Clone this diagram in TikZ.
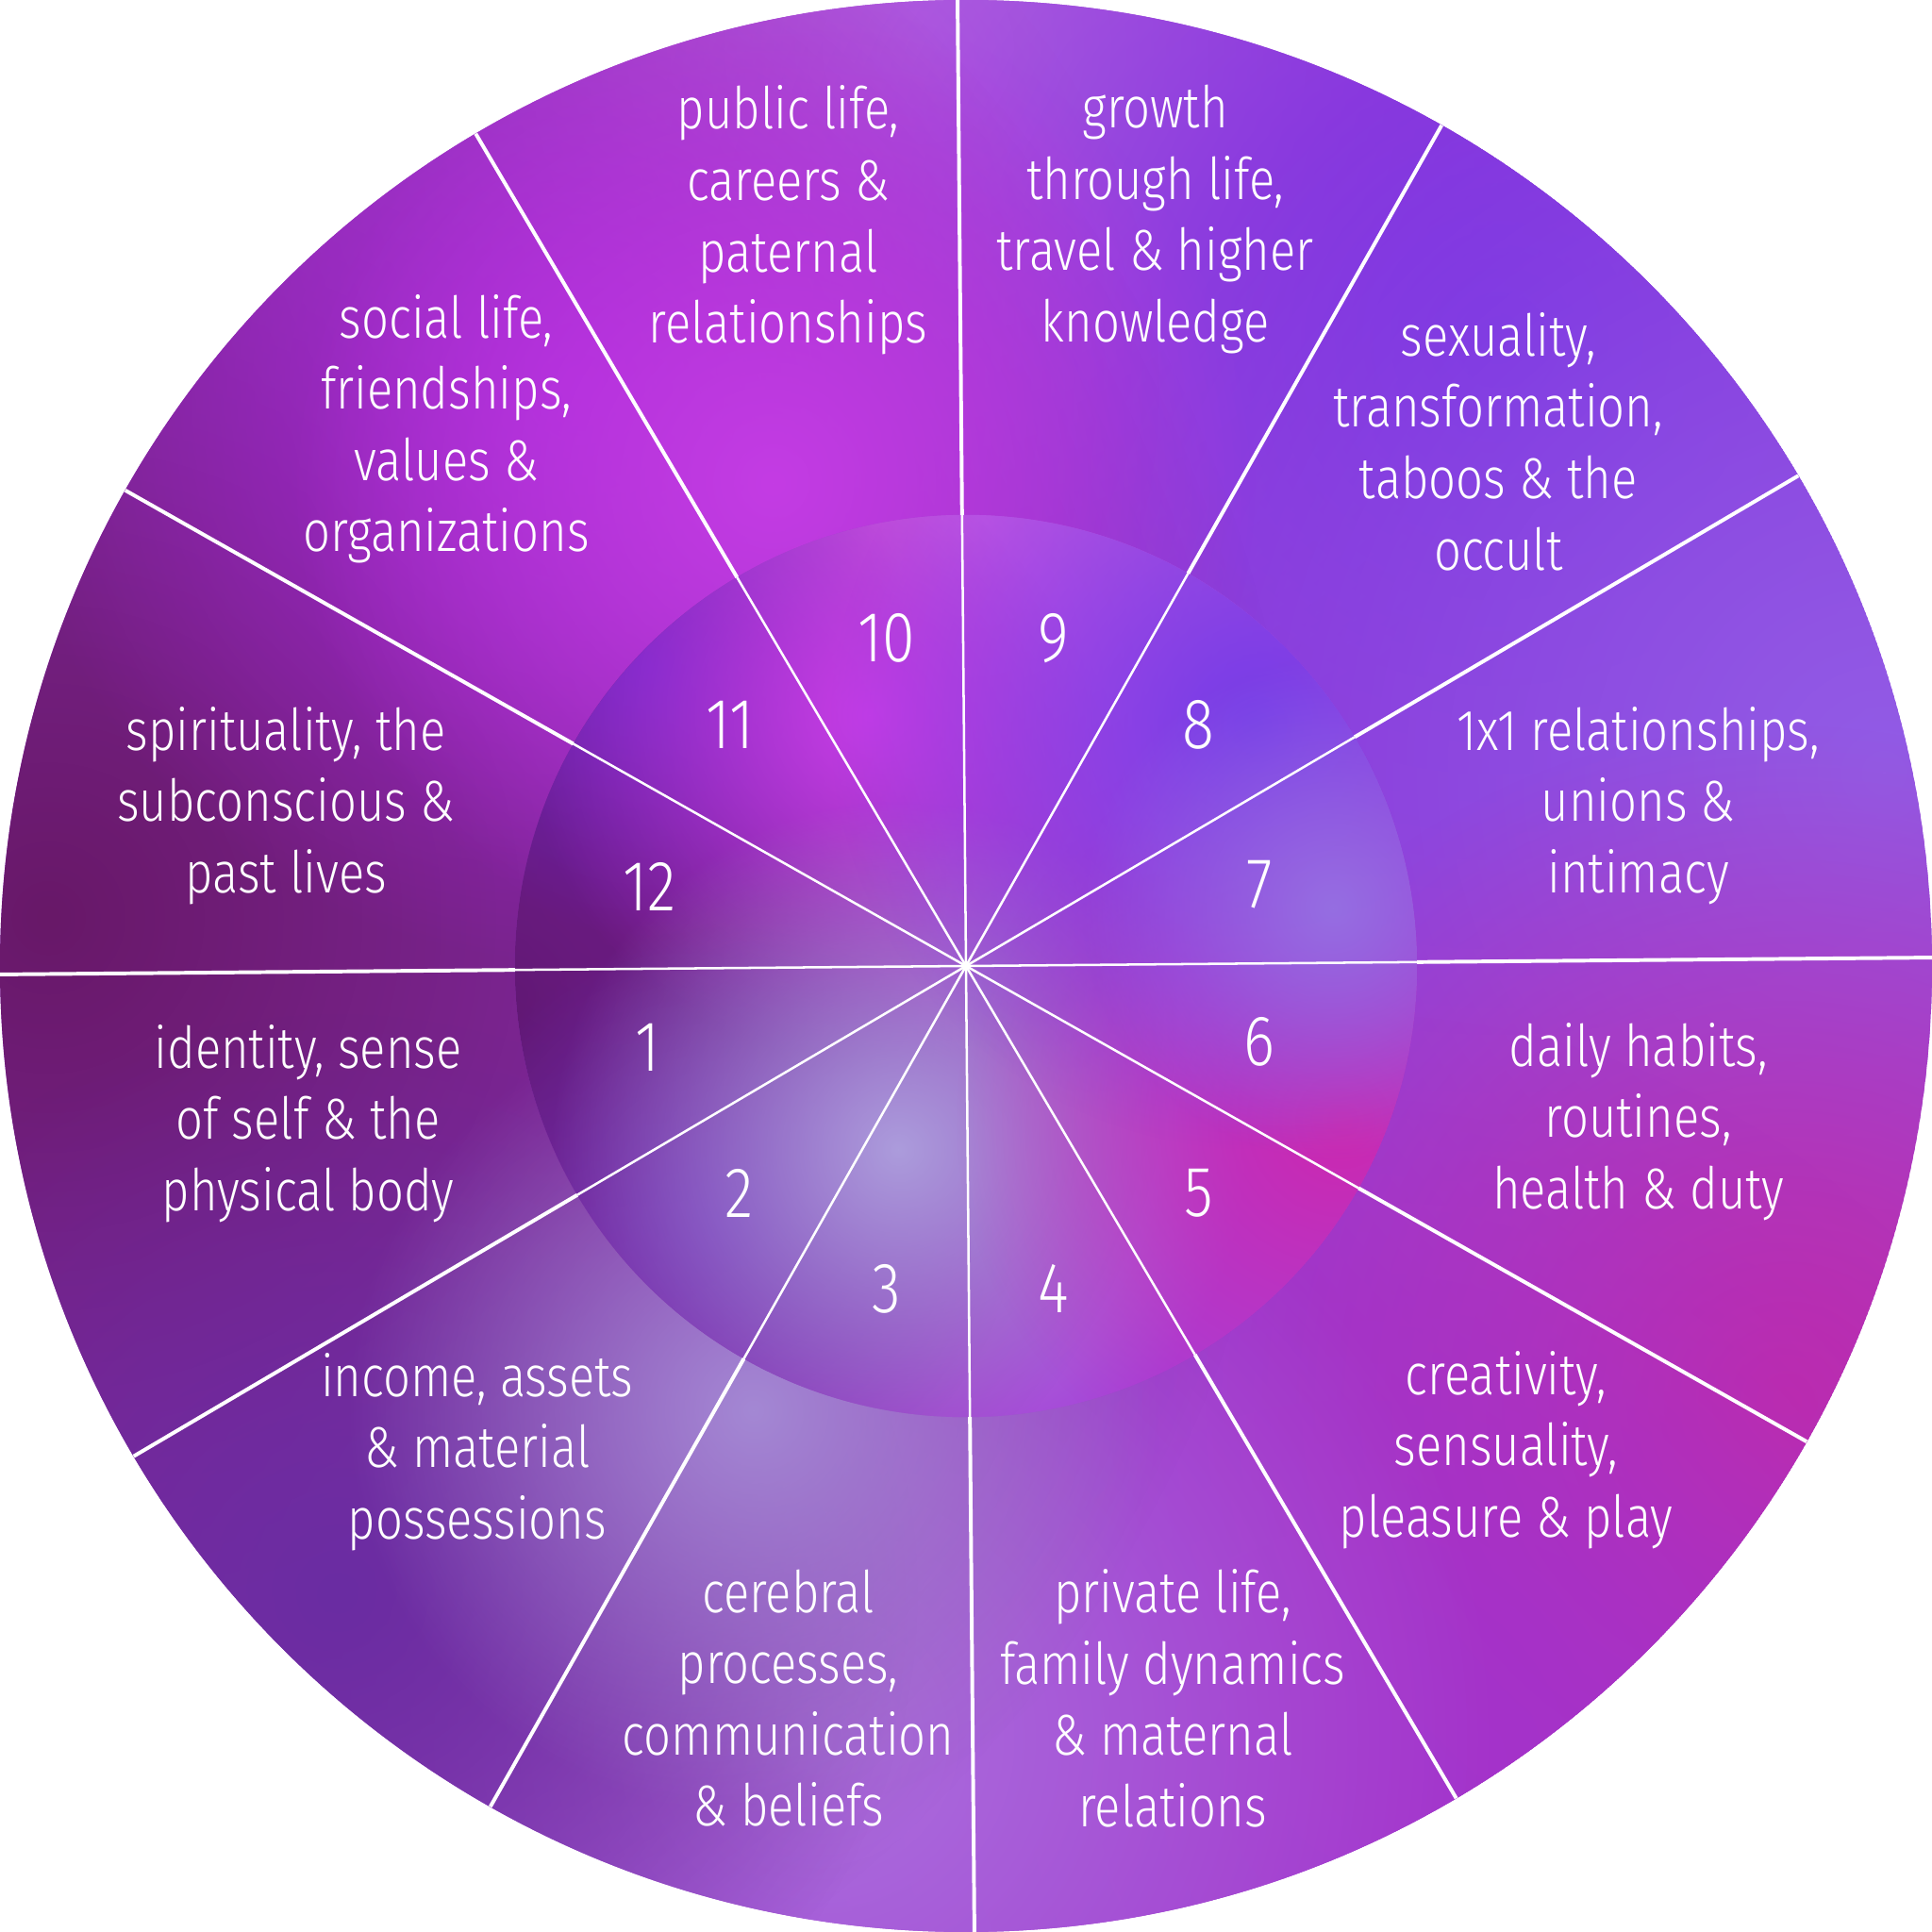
\documentclass[tikz,border=0pt]{standalone}
\usepackage{fontspec}
\setmainfont{Fira Sans Light}[FakeStretch=0.83]
\usepackage{tikz}
\usetikzlibrary{fadings}

\definecolor{ringbase}{HTML}{9838D0}
\definecolor{diskbase}{HTML}{A640D8}
\tikzfading[name=glow out, inner color=transparent!0, outer color=transparent!100]

\tikzset{
	spoke/.style={white, line width=1.1pt},
	innerspoke/.style={white, line width=0.7pt},
	house/.style={white, align=center, inner sep=0pt, font=\fontsize{17}{21}\selectfont},
	housenum/.style={white, inner sep=0pt, font=\fontsize{21}{21}\selectfont},
	blob/.style={path fading=glow out},
}

\begin{document}
\begin{tikzpicture}
	\useasboundingbox (-10, -10) rectangle (10, 10);
	\coordinate (c) at (0, 0);
	% outer ring
	\begin{scope}
		\clip (c) circle (10);
		\fill[ringbase] (c) circle (10);
		\fill[blob, color={rgb,255:red,192;green,112;blue,224}] (-0.5, 9.5) circle (8);
		\fill[blob, color={rgb,255:red,122;green,46;blue,226}] (5.5, 6.5) circle (9);
		\fill[blob, color={rgb,255:red,146;green,92;blue,230}] (9.5, 2) circle (9);
		\fill[blob, color={rgb,255:red,194;green,42;blue,168}] (8.5, -4.5) circle (7);
		\fill[blob, color={rgb,255:red,164;green,50;blue,204}] (4, -8.5) circle (8);
		\fill[blob, color={rgb,255:red,172;green,112;blue,222}] (-1.5, -8) circle (7);
		\fill[blob, color={rgb,255:red,104;green,24;blue,104}] (-9.5, 0.5) circle (13);
		\fill[blob, color={rgb,255:red,106;green,44;blue,162}] (-6.5, -6.5) circle (6);
		\fill[blob, color={rgb,255:red,164;green,136;blue,212}] (-2.2, -4.6) circle (4.2);
		\fill[blob, color={rgb,255:red,168;green,40;blue,216}] (-4, 6) circle (6);
		\fill[blob, color={rgb,255:red,196;green,60;blue,228}] (-2, 5) circle (5);
	\end{scope}
	% inner disk
	\begin{scope}
		\clip (c) circle (4.67);
		\fill[diskbase] (c) circle (4.67);
		\fill[blob, color={rgb,255:red,200;green,104;blue,226}] (0, 4.5) circle (5);
		\fill[blob, color={rgb,255:red,88;green,22;blue,104}] (-4.8, -0.3) circle (7);
		\fill[blob, color={rgb,255:red,106;green,26;blue,128}] (-3.6, 0.9) circle (3.4);
		\fill[blob, color={rgb,255:red,108;green,36;blue,194}] (-3.3, 3.1) circle (2.8);
		\fill[blob, color={rgb,255:red,198;green,60;blue,230}] (-1, 2.6) circle (3.6);
		\fill[blob, color={rgb,255:red,112;green,44;blue,180}] (-2.5, -2.6) circle (3);
		\fill[blob, color={rgb,255:red,172;green,156;blue,220}] (-0.7, -1.9) circle (3.6);
		\fill[blob, color={rgb,255:red,204;green,40;blue,176}] (3.9, -1.6) circle (4);
		\fill[blob, color={rgb,255:red,118;green,60;blue,232}] (3, 2.5) circle (4.4);
		\fill[blob, color={rgb,255:red,150;green,110;blue,226}] (3.8, 0.6) circle (2.6);
	\end{scope}
	% spokes
	\foreach \a in {0.5, 30.5, ..., 330.5} {
		\draw[spoke] (\a:4.67) -- (\a:10);
		\draw[innerspoke] (c) -- (\a:4.67);
	}
	% house numbers
	\node[housenum] (n1) at (-3.30, -0.84) {1};
	\node[housenum] (n2) at (-2.35, -2.35) {2};
	\node[housenum] (n3) at (-0.82, -3.34) {3};
	\node[housenum] (n4) at (0.91, -3.34) {4};
	\node[housenum] (n5) at (2.41, -2.35) {5};
	\node[housenum] (n6) at (3.04, -0.78) {6};
	\node[housenum] (n7) at (3.04, 0.84) {7};
	\node[housenum] (n8) at (2.41, 2.50) {8};
	\node[housenum] (n9) at (0.91, 3.39) {9};
	\node[housenum] (n10) at (-0.82, 3.39) {10};
	\node[housenum] (n11) at (-2.44, 2.50) {11};
	\node[housenum] (n12) at (-3.28, 0.82) {12};
	% house meanings
	\node[house] (t1) at (-6.81, -1.63) {identity, sense\\of self \& the\\physical body};
	\node[house] (t2) at (-5.06, -5.03) {income, assets\\\& material\\possessions};
	\node[house] (t3) at (-1.84, -7.58) {cerebral\\processes,\\communication\\\& beliefs};
	\node[house] (t4) at (2.14, -7.58) {private life,\\family dynamics\\\& maternal\\relations};
	\node[house] (t5) at (5.59, -5.01) {creativity,\\sensuality,\\pleasure \& play};
	\node[house] (t6) at (6.96, -1.61) {daily habits,\\routines,\\health \& duty};
	\node[house] (t7) at (6.96, 1.66) {1x1 relationships,\\unions \&\\intimacy};
	\node[house] (t8) at (5.51, 5.43) {sexuality,\\transformation,\\taboos \& the\\occult};
	\node[house] (t9) at (1.96, 7.73) {growth\\through life,\\travel \& higher\\knowledge};
	\node[house] (t10) at (-1.84, 7.72) {public life,\\careers \&\\paternal\\relationships};
	\node[house] (t11) at (-5.38, 5.56) {social life,\\friendships,\\values \&\\organizations};
	\node[house] (t12) at (-7.04, 1.66) {spirituality, the\\subconscious \&\\past lives};
\end{tikzpicture}
\end{document}
